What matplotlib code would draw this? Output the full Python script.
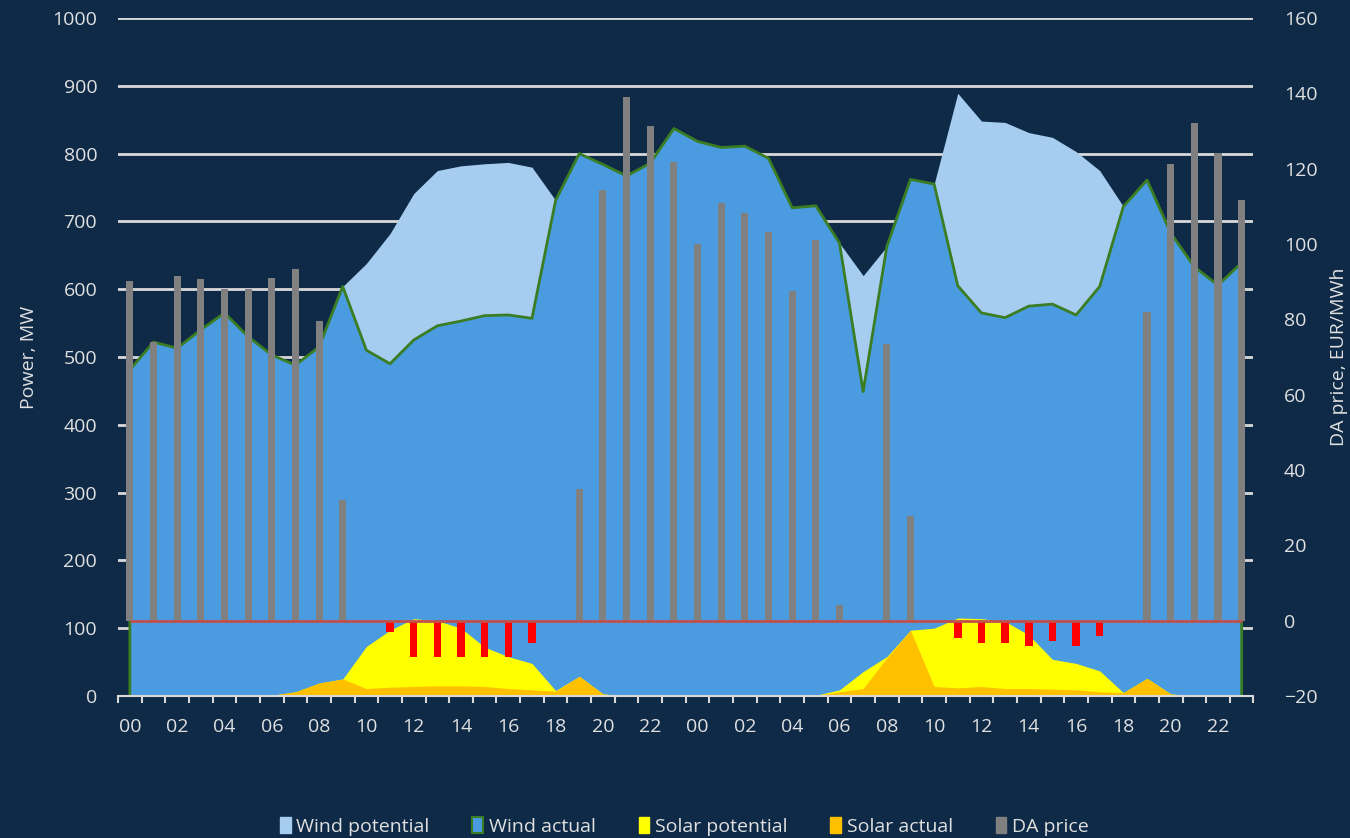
import numpy as np
import matplotlib
matplotlib.use("Agg")
from matplotlib import pyplot as plt
from matplotlib.patches import Patch

# two days, hourly
hours = [f"{h:02d}" for h in range(24)] * 2

wind_actual = [481, 522, 513, 540, 565, 530, 503, 488, 515, 604,
               510, 490, 525, 546, 553, 561, 562, 557, 731, 800,
               784, 767, 786, 837, 818, 809, 811, 793, 720, 723,
               668, 449, 663, 762, 755, 605, 565, 558, 575, 578,
               562, 604, 722, 761, 683, 633, 606, 639]
wind_potential = [481, 522, 513, 540, 565, 530, 503, 488, 515, 604,
                  638, 682, 741, 775, 782, 785, 787, 780, 731, 800,
                  784, 767, 786, 837, 818, 809, 811, 793, 720, 723,
                  668, 620, 663, 762, 755, 889, 848, 846, 831, 824,
                  803, 775, 722, 761, 683, 633, 606, 639]
solar_potential = [0, 0, 0, 0, 0, 0, 1, 6, 19, 25,
                   73, 97, 114, 111, 100, 72, 58, 48, 8, 29,
                   3, 0, 0, 0, 0, 0, 0, 0, 0, 1,
                   9, 36, 58, 97, 100, 115, 114, 110, 90, 54,
                   48, 37, 5, 26, 3, 0, 0, 0]
solar_actual = [0, 0, 0, 0, 0, 0, 1, 6, 19, 25,
                11, 13, 14, 15, 15, 14, 11, 9, 7, 29,
                3, 0, 0, 0, 0, 0, 0, 0, 0, 1,
                6, 11, 56, 97, 14, 12, 14, 11, 11, 10,
                9, 6, 5, 26, 3, 0, 0, 0]
da_price = [90.2, 74.0, 91.5, 90.6, 88.1, 88.1, 90.9, 93.3, 79.6, 32.0,
            0.0, -3.0, -9.7, -9.7, -9.7, -9.7, -9.7, -6.0, 0.0, 35.0,
            114.3, 139.1, 131.3, 121.7, 100.0, 110.9, 108.1, 103.1, 87.4, 101.1,
            4.1, 0.0, 73.4, 27.9, 0.0, -4.7, -6.0, -6.0, -6.7, -5.3,
            -6.7, -4.0, 0.0, 82.0, 121.2, 132.0, 124.1, 111.6]

BG = "#0E2A47"
TXT = "#E0E0E0"
GRID = "#D9D9D9"
C_WPOT = "#A6CDEF"
C_WACT = "#4A9BE0"
C_EDGE = "#3A7D22"
C_SPOT = "#FFFF00"
C_SACT = "#FFC000"
C_PRICE = "#808080"
C_NEG = "#FF0000"

plt.rcParams['font.family'] = ['Open Sans', 'DejaVu Sans']
plt.rcParams['font.size'] = 14

x = np.arange(len(hours))
price = np.array(da_price)

fig = plt.figure(figsize=(13.5, 8.38), dpi=100, facecolor=BG)
ax = fig.add_axes([0.0874, 0.1695, 0.8411, 0.809])
ax.set_facecolor(BG)

# gridlines behind the areas
ax.set_ylim(0, 1000)
ax.set_yticks(np.arange(0, 1001, 100))
ax.yaxis.grid(True, color=GRID, linewidth=2)
ax.set_axisbelow(True)

ax.fill_between(x, wind_potential, color=C_WPOT, linewidth=0, zorder=2)
ax.fill_between(x, wind_actual, color=C_WACT, linewidth=0, zorder=3)
edge_x = np.concatenate([[x[0]], x, [x[-1]]])
edge_y = np.concatenate([[0], wind_actual, [0]])
ax.plot(edge_x, edge_y, color=C_EDGE, linewidth=2, zorder=4)
ax.fill_between(x, solar_potential, color=C_SPOT, linewidth=0, zorder=5)
ax.fill_between(x, solar_actual, color=C_SACT, linewidth=0, zorder=6)

ax.set_xlim(-0.5, len(x) - 0.5)
ax.set_xticks(x[::2])
ax.set_xticklabels(hours[::2])
ax.set_xticks(np.arange(-0.5, len(x), 1.0), minor=True)
ax.tick_params(axis='x', which='major', length=0, pad=16, colors=TXT, labelsize=14)
ax.tick_params(axis='x', which='minor', length=5, width=1.5, color=GRID)
ax.tick_params(axis='y', length=0, pad=15, colors=TXT, labelsize=14)
for s in ['top', 'right', 'left']:
    ax.spines[s].set_visible(False)
ax.spines['bottom'].set_color(GRID)
ax.spines['bottom'].set_linewidth(1.5)
ax.spines['bottom'].set_zorder(10)
ax.set_ylabel("Power, MW", color=TXT, fontsize=14, labelpad=10)

# price on secondary axis
ax2 = ax.twinx()
ax2.set_ylim(-20, 160)
ax2.set_yticks(np.arange(-20, 161, 20))
ax2.patch.set_visible(False)
ax2.bar(x, np.where(price > 0, price, 0), width=0.3, color=C_PRICE, zorder=3)
ax2.bar(x, np.where(price < 0, price, 0), width=0.32, color=C_NEG, zorder=3)
ax2.hlines(0, x[0], x[-1], color="#C0504D", linewidth=2, zorder=4)
ax2.tick_params(axis='y', length=0, pad=22, colors=TXT, labelsize=14)
for s in ['top', 'right', 'left', 'bottom']:
    ax2.spines[s].set_visible(False)
ax2.set_ylabel("DA price, EUR/MWh", color=TXT, fontsize=14, labelpad=9)

handles = [
    Patch(facecolor=C_WPOT, edgecolor=C_WPOT, label="Wind potential"),
    Patch(facecolor=C_WACT, edgecolor=C_EDGE, linewidth=1.5, label="Wind actual"),
    Patch(facecolor=C_SPOT, edgecolor=C_SPOT, label="Solar potential"),
    Patch(facecolor=C_SACT, edgecolor=C_SACT, label="Solar actual"),
    Patch(facecolor=C_PRICE, edgecolor=C_PRICE, label="DA price"),
]
leg = fig.legend(handles=handles, loc='lower center', bbox_to_anchor=(0.507, -0.018),
                 ncol=5, frameon=False, fontsize=14, handlelength=0.55, handleheight=0.9,
                 handletextpad=0.3, columnspacing=2.2, labelcolor=TXT)

fig.savefig("out.png", dpi=100, facecolor=BG)
